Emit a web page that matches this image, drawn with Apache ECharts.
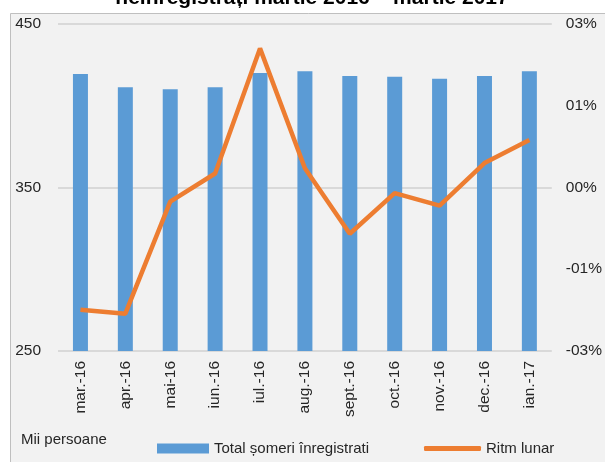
<!DOCTYPE html>
<html>
<head>
<meta charset="utf-8">
<script src="https://cdn.jsdelivr.net/npm/echarts@6/dist/echarts.min.js"></script>
<style>
  html, body { margin: 0; padding: 0; background: #fff; }
  #main { width: 605px; height: 462px; }
</style>
</head>
<body>
<div id="main"></div>
<script>
// luni
var luni = ['mar.-16', 'apr.-16', 'mai-16', 'iun.-16', 'iul.-16', 'aug.-16', 'sept.-16', 'oct.-16', 'nov.-16', 'dec.-16', 'ian.-17'];
// total someri inregistrati (mii persoane)
var totalSomeri = [419.1, 411.0, 409.9, 411.0, 419.7, 420.8, 417.9, 417.5, 416.3, 417.9, 420.8];
// ritm lunar
var ritmLunar = [-0.0187, -0.0193, -0.0022, 0.0021, 0.0212, 0.0029, -0.0071, -0.0009, -0.0028, 0.0037, 0.0072];

var FONT = "'Liberation Sans', Arial, sans-serif";
var TXT = '#262626';

function fmtProc(v) {
    var n = Math.round(Math.abs(v) * 100);
    var s = (n < 10 ? '0' : '') + n + '%';
    return (v < -1e-9 ? '-' : '') + s;
}

var myChart = echarts.init(document.getElementById('main'));

var option = {
    backgroundColor: '#ffffff',
    animation: false,
    textStyle: { fontFamily: FONT, color: TXT },
    graphic: [
        {
            type: 'rect', z: -10, silent: true,
            shape: { x: 10.5, y: 13.5, width: 640, height: 500 },
            style: { fill: '#f2f2f2', stroke: '#bfbfbf', lineWidth: 1 }
        },
        {
            type: 'text', left: 21, top: 432,
            style: { text: 'Mii persoane', font: "15px " + FONT, fill: TXT }
        },
        {
            type: 'text', x: 312, y: 9,
            style: {
                text: 'neînregistrați martie 2016 – martie 2017',
                font: "bold 21px " + FONT, fill: '#000',
                align: 'center', verticalAlign: 'bottom'
            }
        }
    ],
    grid: { left: 58, right: 48, top: 23.5, bottom: 111, containLabel: false },
    legend: [
        {
            left: 152, top: 436,
            itemWidth: 52, itemHeight: 10, itemGap: 5,
            icon: 'rect',
            textStyle: { fontSize: 15, fontFamily: FONT, color: TXT },
            data: ['Total șomeri înregistrati']
        },
        {
            left: 419, top: 436,
            itemWidth: 57, itemHeight: 5, itemGap: 5,
            icon: 'roundRect',
            textStyle: { fontSize: 15, fontFamily: FONT, color: TXT },
            data: ['Ritm lunar']
        }
    ],
    xAxis: {
        type: 'category',
        data: luni,
        axisLine: { show: false },
        axisTick: { show: false },
        axisLabel: { rotate: 90, margin: 10, fontSize: 15.5, color: TXT, interval: 0 }
    },
    yAxis: [
        {
            type: 'value', min: 250, max: 450, interval: 50,
            axisLine: { show: false }, axisTick: { show: false },
            axisLabel: {
                fontSize: 15.5, color: TXT, margin: 17,
                formatter: function (v) { return (v % 100 === 50) ? v : ''; }
            },
            splitLine: { lineStyle: { color: ['#d9d9d9', 'rgba(0,0,0,0)'], width: 2 } }
        },
        {
            type: 'value', min: -0.025, max: 0.025, interval: 0.0125,
            axisLine: { show: false }, axisTick: { show: false },
            axisLabel: { fontSize: 15.5, color: TXT, margin: 14, formatter: fmtProc },
            splitLine: { show: false }
        }
    ],
    series: [
        {
            name: 'Total șomeri înregistrati',
            type: 'bar',
            data: totalSomeri,
            barWidth: 15,
            itemStyle: { color: '#5b9bd5' }
        },
        {
            name: 'Ritm lunar',
            type: 'line',
            yAxisIndex: 1,
            data: ritmLunar,
            symbol: 'none',
            lineStyle: { color: '#ed7d31', width: 4.5 },
            itemStyle: { color: '#ed7d31' }
        }
    ]
};
myChart.setOption(option);
</script>
</body>
</html>
